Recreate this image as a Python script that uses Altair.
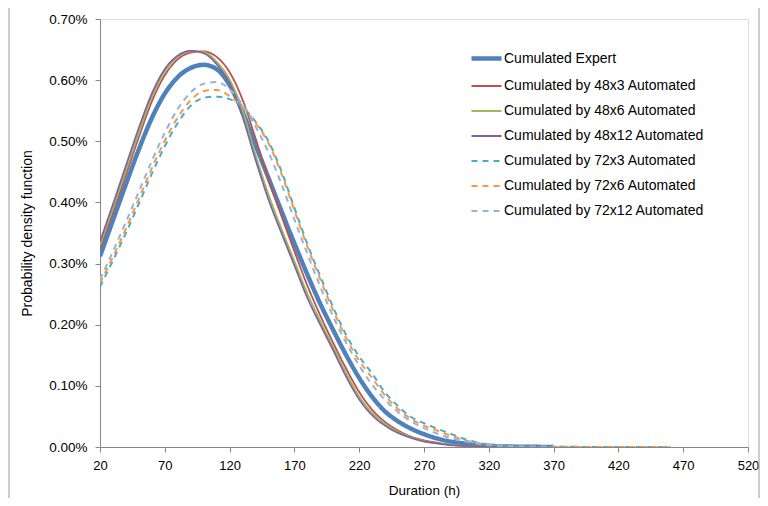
import altair as alt
import pandas as pd

# ---- data (values in %) ----
hours_short = list(range(20, 380, 10))   # 20..370
hours_long = list(range(20, 470, 10))    # 20..460

series_names = [
    "Cumulated Expert",
    "Cumulated by 48x3 Automated",
    "Cumulated by 48x6 Automated",
    "Cumulated by 48x12 Automated",
    "Cumulated by 72x3 Automated",
    "Cumulated by 72x6 Automated",
    "Cumulated by 72x12 Automated",
]

expert = [0.312, 0.371, 0.430, 0.487, 0.538, 0.578, 0.605, 0.620, 0.625, 0.618,
          0.592, 0.548, 0.494, 0.440, 0.386, 0.333, 0.282, 0.234, 0.191, 0.150,
          0.113, 0.082, 0.058, 0.042, 0.030, 0.021, 0.014, 0.009, 0.006, 0.003,
          0.002, 0.001, 0.0006, 0.0004, 0.0002, 0.0001]
auto_48x3 = [0.325, 0.384, 0.445, 0.507, 0.565, 0.608, 0.634, 0.645, 0.647, 0.638,
             0.613, 0.568, 0.505, 0.438, 0.378, 0.320, 0.264, 0.215, 0.170, 0.128,
             0.090, 0.061, 0.041, 0.027, 0.017, 0.011, 0.007, 0.004, 0.002, 0.001,
             0.0006, 0.0003, 0.0002, 0.0001, 0.0001, 0.0]
auto_48x6 = [0.330, 0.390, 0.452, 0.514, 0.572, 0.614, 0.638, 0.647, 0.646, 0.630,
             0.601, 0.550, 0.478, 0.413, 0.357, 0.304, 0.251, 0.206, 0.163, 0.121,
             0.083, 0.056, 0.038, 0.025, 0.016, 0.010, 0.006, 0.004, 0.002, 0.001,
             0.0006, 0.0003, 0.0002, 0.0001, 0.0001, 0.0]
auto_48x12 = [0.336, 0.397, 0.460, 0.522, 0.578, 0.618, 0.640, 0.648, 0.644, 0.626,
              0.595, 0.540, 0.470, 0.405, 0.350, 0.297, 0.244, 0.200, 0.158, 0.115,
              0.078, 0.052, 0.035, 0.023, 0.015, 0.009, 0.006, 0.003, 0.002, 0.001,
              0.0005, 0.0003, 0.0002, 0.0001, 0.0001, 0.0]
auto_72x3 = [0.262, 0.305, 0.350, 0.398, 0.447, 0.492, 0.530, 0.558, 0.571, 0.573,
             0.569, 0.556, 0.532, 0.500, 0.451, 0.391, 0.332, 0.279, 0.228, 0.183,
             0.148, 0.120, 0.089, 0.067, 0.049, 0.039, 0.030, 0.022, 0.014, 0.008,
             0.004, 0.002, 0.001, 0.0006, 0.0004, 0.0003, 0.0003, 0.0002, 0.0002,
             0.0002, 0.0001, 0.0001, 0.0001, 0.0001, 0.0001]
auto_72x6 = [0.268, 0.311, 0.357, 0.406, 0.456, 0.501, 0.539, 0.567, 0.582, 0.584,
             0.574, 0.556, 0.530, 0.497, 0.447, 0.387, 0.328, 0.274, 0.223, 0.178,
             0.141, 0.113, 0.084, 0.062, 0.046, 0.035, 0.027, 0.019, 0.012, 0.007,
             0.004, 0.002, 0.001, 0.0006, 0.0004, 0.0003, 0.0003, 0.0002, 0.0002,
             0.0002, 0.0001, 0.0001, 0.0001, 0.0001, 0.0001]
auto_72x12 = [0.274, 0.320, 0.368, 0.418, 0.468, 0.514, 0.553, 0.580, 0.594, 0.597,
              0.585, 0.560, 0.524, 0.482, 0.430, 0.372, 0.316, 0.262, 0.213, 0.170,
              0.133, 0.102, 0.077, 0.057, 0.042, 0.031, 0.022, 0.015, 0.010, 0.006,
              0.003, 0.002, 0.001, 0.0005, 0.0003, 0.0002]

series_values = [expert, auto_48x3, auto_48x6, auto_48x12, auto_72x3, auto_72x6, auto_72x12]
series_hours = [hours_short, hours_short, hours_short, hours_short, hours_long, hours_long, hours_short]

x_ticks = list(range(20, 521, 50))
y_ticks = [0, 0.001, 0.002, 0.003, 0.004, 0.005, 0.006, 0.007]

rows = []
for name, hrs, vals in zip(series_names, series_hours, series_values):
    for h, v in zip(hrs, vals):
        rows.append({"series": name, "hours": h, "pdf": v / 100.0})
df = pd.DataFrame(rows)

colors = ["#4F81BD", "#C0504D", "#9BBB59", "#8064A2", "#4BACC6", "#F79646", "#95B3D7"]
dashes = [[1, 0], [1, 0], [1, 0], [1, 0], [6, 5], [6, 5], [6, 5]]
widths = [4.5, 1.8, 1.8, 1.8, 2, 2, 2]

FONT = "Liberation Sans"


def make_legend():
    return alt.Legend(title=None, orient="none", legendX=369, legendY=22,
                      symbolType="stroke", symbolSize=900,
                      labelFont=FONT, labelFontSize=14, labelColor="#000",
                      labelOffset=0, rowPadding=2, labelLimit=400)


lines = alt.Chart(df).mark_line(interpolate="monotone", clip=True).encode(
    x=alt.X("hours:Q",
            scale=alt.Scale(domain=[20, 520], nice=False, zero=False),
            axis=alt.Axis(values=x_ticks, title="Duration (h)", grid=False,
                          domainColor="#868686", tickColor="#868686", tickSize=5,
                          labelFontSize=13, labelColor="#000", labelPadding=7,
                          labelFont=FONT, titleFont=FONT, titleFontSize=13.5,
                          titleFontWeight="normal", titleColor="#000", titlePadding=11,
                          labelFlush=False)),
    y=alt.Y("pdf:Q",
            scale=alt.Scale(domain=[0, 0.007], nice=False),
            axis=alt.Axis(values=y_ticks, format=".2%", title="Probability density function",
                          grid=False, domainColor="#868686", tickColor="#868686", tickSize=5,
                          labelFontSize=13.5, labelColor="#000", labelPadding=8,
                          labelFont=FONT, titleFont=FONT, titleFontSize=14,
                          titleFontWeight="normal", titleColor="#000", titlePadding=14)),
    color=alt.Color("series:N", sort=series_names,
                    scale=alt.Scale(domain=series_names, range=colors),
                    legend=make_legend()),
    strokeDash=alt.StrokeDash("series:N", sort=series_names,
                              scale=alt.Scale(type="ordinal", domain=series_names, range=dashes),
                              legend=make_legend()),
    strokeWidth=alt.StrokeWidth("series:N", sort=series_names,
                                scale=alt.Scale(type="ordinal", domain=series_names, range=widths),
                                legend=make_legend()),
)

frame = alt.Chart(pd.DataFrame({"k": [0]})).mark_rect(
    fill="transparent", stroke="#9a9a9a", strokeWidth=1
).encode(
    x=alt.value(-91), x2=alt.value(659), y=alt.value(-12), y2=alt.value(481)
)

chart = alt.layer(frame, lines).properties(
    width=648, height=428,
    padding={"left": 92, "top": 11, "right": 12, "bottom": 51},
    autosize=alt.AutoSizeParams(type="none"),
).configure_view(stroke=None).configure(background="white")

chart.save("out.html", embed_options={"renderer": "svg", "actions": False})
